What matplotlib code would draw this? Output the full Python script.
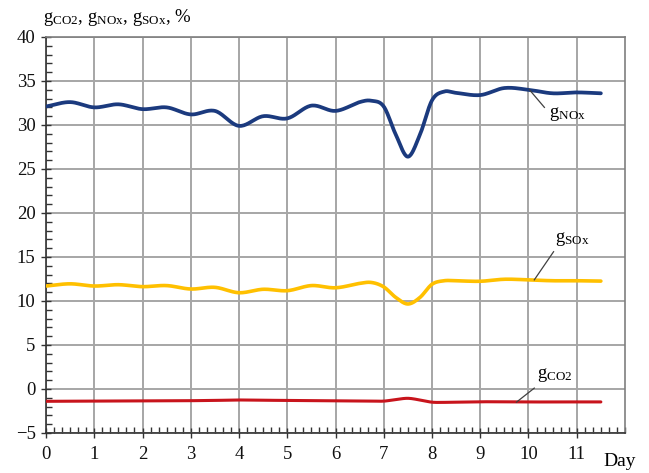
import numpy as np
import matplotlib
matplotlib.use("Agg")
import matplotlib.pyplot as plt
from matplotlib.ticker import MultipleLocator

plt.rcParams["font.family"] = ["Liberation Serif", "DejaVu Serif"]
plt.rcParams["mathtext.fontset"] = "custom"
plt.rcParams["mathtext.rm"] = "Liberation Serif"
plt.rcParams["mathtext.it"] = "Liberation Serif:italic"
plt.rcParams["mathtext.bf"] = "Liberation Serif:bold"

# Daily emission shares, %
days = [0, 0.5, 1, 1.5, 2, 2.5, 3, 3.5, 4, 4.5, 5, 5.5, 6, 6.5, 6.75, 7,
        7.25, 7.5, 7.75, 8, 8.25, 8.5, 9, 9.5, 10, 10.5, 11, 11.5]
g_nox = [32.1, 32.6, 32.0, 32.35, 31.8, 32.0, 31.2, 31.6, 29.9, 31.0, 30.75,
         32.2, 31.6, 32.6, 32.75, 32.1, 28.9, 26.4, 28.9, 32.8, 33.8, 33.65,
         33.4, 34.2, 34.0, 33.6, 33.7, 33.6]
g_sox = [11.7, 11.95, 11.7, 11.85, 11.63, 11.75, 11.36, 11.55, 10.94, 11.33,
         11.17, 11.75, 11.5, 12.0, 12.1, 11.6, 10.4, 9.66, 10.4, 11.9, 12.3,
         12.3, 12.24, 12.47, 12.4, 12.3, 12.3, 12.26]
g_co2 = [-1.4, -1.39, -1.38, -1.37, -1.36, -1.35, -1.33, -1.3, -1.25, -1.28,
         -1.3, -1.32, -1.33, -1.35, -1.37, -1.38, -1.2, -1.06, -1.25, -1.5,
         -1.52, -1.5, -1.45, -1.47, -1.48, -1.47, -1.47, -1.47]

x_ticks = list(range(0, 12))
y_ticks = list(range(-5, 41, 5))


def smooth(x, y, n=20):
    """Catmull-Rom smoothing through the given points (like a smoothed line)."""
    x = np.asarray(x, float)
    y = np.asarray(y, float)
    px = np.concatenate([[2 * x[0] - x[1]], x, [2 * x[-1] - x[-2]]])
    py = np.concatenate([[2 * y[0] - y[1]], y, [2 * y[-1] - y[-2]]])
    xs, ys = [], []
    t = np.linspace(0, 1, n, endpoint=False)
    for i in range(1, len(px) - 2):
        p0, p1, p2, p3 = (np.array([px[j], py[j]]) for j in range(i - 1, i + 3))
        tt = t[:, None]
        pts = 0.5 * ((2 * p1) + (-p0 + p2) * tt + (2 * p0 - 5 * p1 + 4 * p2 - p3) * tt ** 2
                     + (-p0 + 3 * p1 - 3 * p2 + p3) * tt ** 3)
        xs.extend(pts[:, 0])
        ys.extend(pts[:, 1])
    xs.append(x[-1])
    ys.append(y[-1])
    return np.array(xs), np.array(ys)


fig = plt.figure(figsize=(6.49, 4.73), dpi=100)
ax = fig.add_axes([0.0709, 0.0846, 0.8921, 0.8372])

ax.set_xlim(0, 12)
ax.set_ylim(-5, 40)
ax.set_xticks(x_ticks)
ax.set_yticks(y_ticks)
ax.xaxis.set_minor_locator(MultipleLocator(1 / 6))
ax.yaxis.set_minor_locator(MultipleLocator(1))
ax.grid(True, which="major", color="#a6a6a6", linewidth=1.4)
ax.set_axisbelow(True)

for s in ("top", "right"):
    ax.spines[s].set_color("#7f7f7f")
    ax.spines[s].set_linewidth(1.2)
for s in ("left", "bottom"):
    ax.spines[s].set_color("#333333")
    ax.spines[s].set_linewidth(1.2)

ax.tick_params(which="major", direction="inout", length=7, width=1.0,
               labelsize=13.5, colors="#333333", labelcolor="#111111")
ax.tick_params(which="minor", direction="in", length=4, width=1.0, colors="#333333")
ax.tick_params(axis="x", pad=6)
ax.tick_params(axis="y", pad=4)

series = [
    (g_nox, "#1b3a7e", 2.7),
    (g_sox, "#ffc000", 2.6),
    (g_co2, "#c8141c", 2.2),
]
for vals, col, lw in series:
    sx, sy = smooth(days, vals)
    ax.plot(sx, sy, color=col, linewidth=lw, solid_capstyle="round", zorder=3)

# Curve labels with leader lines
labels = [
    (r"$\mathrm{g}_{\mathrm{NOx}}$", (10.02, 34.0), (10.33, 32.0), (10.42, 31.3)),
    (r"$\mathrm{g}_{\mathrm{SOx}}$", (10.12, 12.4), (10.52, 15.6), (10.55, 17.0)),
    (r"$\mathrm{g}_{\mathrm{CO2}}$", (9.75, -1.5), (10.12, 0.1), (10.17, 1.6)),
]
for text, p0, p1, pt in labels:
    ax.plot([p0[0], p1[0]], [p0[1], p1[1]], color="#404040", linewidth=0.9, zorder=4)
    ax.text(pt[0], pt[1], text, fontsize=13.5, ha="left", va="center", zorder=5)

fig.text(0.066, 0.962, r"$\mathrm{g}_{\mathrm{CO2}}$, $\mathrm{g}_{\mathrm{NOx}}$, "
         r"$\mathrm{g}_{\mathrm{SOx}}$, %", fontsize=13.5, ha="left", va="center")
fig.text(0.930, 0.025, "Day", fontsize=14, ha="left", va="center")

fig.savefig("out.png", dpi=100)
